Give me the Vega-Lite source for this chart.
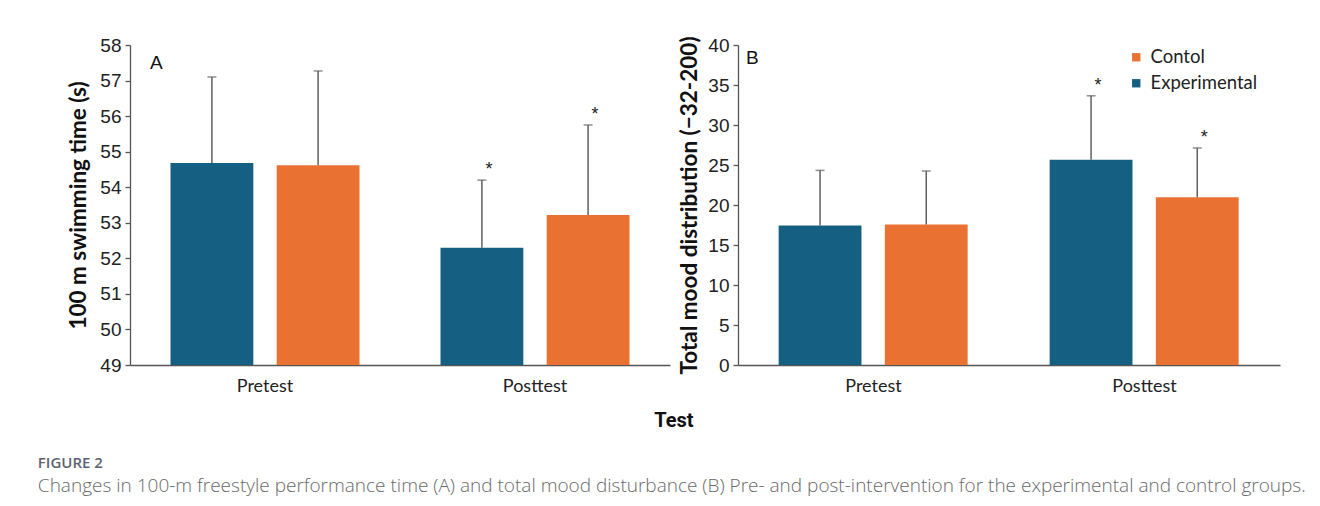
{
  "$schema": "https://vega.github.io/schema/vega-lite/v6.json",
  "background": "white",
  "autosize": {"type": "pad"},
  "padding": {"left": 37, "top": 35, "right": 5, "bottom": 5},
  "datasets": {
    "swim": [
      {"test": "Pretest", "group": "Experimental", "mean": 54.68, "upper": 57.1, "sig": ""},
      {"test": "Pretest", "group": "Contol", "mean": 54.62, "upper": 57.27, "sig": ""},
      {"test": "Posttest", "group": "Experimental", "mean": 52.3, "upper": 54.2, "sig": "*"},
      {"test": "Posttest", "group": "Contol", "mean": 53.22, "upper": 55.75, "sig": "*"}
    ],
    "mood": [
      {"test": "Pretest", "group": "Experimental", "mean": 17.43, "upper": 24.33, "sig": ""},
      {"test": "Pretest", "group": "Contol", "mean": 17.55, "upper": 24.25, "sig": ""},
      {"test": "Posttest", "group": "Experimental", "mean": 25.65, "upper": 33.65, "sig": "*"},
      {"test": "Posttest", "group": "Contol", "mean": 20.98, "upper": 27.13, "sig": "*"}
    ]
  },
  "title": {
    "text": "FIGURE 2",
    "subtitle": "Changes in 100-m freestyle performance time (A) and total mood disturbance (B) Pre- and post-intervention for the experimental and control groups.",
    "orient": "bottom",
    "anchor": "start",
    "frame": "bounds",
    "offset": 25,
    "dx": -30,
    "font": "Open Sans",
    "fontSize": 15,
    "fontWeight": 600,
    "color": "#5c6370",
    "subtitleFont": "Open Sans",
    "subtitleFontSize": 19,
    "subtitleFontWeight": 300,
    "subtitleColor": "#6a6a6a",
    "subtitlePadding": 6
  },
  "config": {
    "view": {"stroke": null},
    "axis": {
      "domainColor": "#555555",
      "domainWidth": 1.3,
      "tickColor": "#555555",
      "tickWidth": 1.3,
      "grid": false,
      "labelOverlap": false,
      "labelColor": "#222222",
      "titleColor": "#111111"
    }
  },
  "vconcat": [
    {
      "title": {"text": "Test", "orient": "bottom", "anchor": "middle", "font": "Roboto", "fontSize": 20, "fontWeight": "bold", "color": "#111111", "offset": 16},
      "spacing": 8,
      "resolve": {"scale": {"color": "independent", "y": "independent"}, "legend": {"color": "independent"}},
      "hconcat": [
        {
          "width": 540,
          "height": 320,
          "title": {"text": "A", "anchor": "start", "frame": "group", "dx": 20, "dy": 41, "font": "Liberation Sans", "fontSize": 19, "fontWeight": "normal", "color": "#111111"},
          "data": {"name": "swim"},
          "encoding": {
            "x": {"field": "test", "type": "nominal", "sort": ["Pretest", "Posttest"], "scale": {"paddingInner": 0.3, "paddingOuter": 0.15},
              "axis": {"title": null, "labelAngle": 0, "ticks": false, "labelFont": "Lato", "labelFontSize": 18, "labelPadding": 12}},
            "xOffset": {"field": "group", "type": "nominal", "sort": ["Experimental", "Contol"], "scale": {"paddingInner": 0.22}}
          },
          "layer": [
            {
              "mark": {"type": "bar"},
              "encoding": {
                "y": {"field": "mean", "type": "quantitative", "scale": {"domain": [49, 58], "nice": false, "zero": false},
                  "axis": {"title": "100 m swimming time (s)", "values": [49, 50, 51, 52, 53, 54, 55, 56, 57, 58], "format": "d", "tickCount": 20, "labelOverlap": false, "labelBound": false, "tickSize": 5, "labelPadding": 4,
                    "labelFont": "Liberation Sans", "labelFontSize": 19, "titleFont": "Lato", "titleFontSize": 22.5, "titleFontWeight": "bold", "titlePadding": 9}},
                "y2": {"datum": 49},
                "color": {"field": "group", "type": "nominal", "scale": {"domain": ["Experimental", "Contol"], "range": ["#156082", "#E97132"]}, "legend": null}
              }
            },
            {
              "mark": {"type": "rule", "color": "#606060", "strokeWidth": 1.5},
              "encoding": {"y": {"field": "mean", "type": "quantitative"}, "y2": {"field": "upper"}}
            },
            {
              "mark": {"type": "tick", "color": "#606060", "thickness": 1.5, "size": 9},
              "encoding": {"y": {"field": "upper", "type": "quantitative"}}
            },
            {
              "mark": {"type": "text", "font": "Liberation Sans", "fontSize": 18, "color": "#222222", "dx": 7, "dy": -10, "baseline": "middle"},
              "encoding": {"y": {"field": "upper", "type": "quantitative"}, "text": {"field": "sig"}}
            }
          ]
        },
        {
          "width": 542,
          "height": 320,
          "title": {"text": "B", "anchor": "start", "frame": "group", "dx": 8, "dy": 36, "font": "Liberation Sans", "fontSize": 19, "fontWeight": "normal", "color": "#111111"},
          "data": {"name": "mood"},
          "encoding": {
            "x": {"field": "test", "type": "nominal", "sort": ["Pretest", "Posttest"], "scale": {"paddingInner": 0.3, "paddingOuter": 0.15},
              "axis": {"title": null, "labelAngle": 0, "ticks": false, "labelFont": "Lato", "labelFontSize": 18, "labelPadding": 12}},
            "xOffset": {"field": "group", "type": "nominal", "sort": ["Experimental", "Contol"], "scale": {"paddingInner": 0.22}}
          },
          "layer": [
            {
              "mark": {"type": "bar"},
              "encoding": {
                "y": {"field": "mean", "type": "quantitative", "scale": {"domain": [0, 40], "nice": false},
                  "axis": {"title": "Total mood distribution (\u221232-200)", "values": [0, 5, 10, 15, 20, 25, 30, 35, 40], "format": "d", "tickCount": 20, "labelOverlap": false, "labelBound": false, "tickSize": 5, "labelPadding": 4,
                    "labelFont": "Liberation Sans", "labelFontSize": 19, "titleFont": "Lato", "titleFontSize": 22.5, "titleFontWeight": "bold", "titlePadding": 6}},
                "y2": {"datum": 0},
                "color": {"field": "group", "type": "nominal", "scale": {"domain": ["Experimental", "Contol"], "range": ["#156082", "#E97132"]},
                  "legend": {"title": null, "orient": "none", "legendX": 389, "legendY": 3, "values": ["Contol", "Experimental"], "symbolType": "square", "symbolSize": 70,
                    "symbolStrokeWidth": 0, "labelFont": "Lato", "labelFontSize": 18.5, "labelColor": "#222222", "rowPadding": 7, "labelOffset": 5}}
              }
            },
            {
              "mark": {"type": "rule", "color": "#606060", "strokeWidth": 1.5},
              "encoding": {"y": {"field": "mean", "type": "quantitative"}, "y2": {"field": "upper"}}
            },
            {
              "mark": {"type": "tick", "color": "#606060", "thickness": 1.5, "size": 9},
              "encoding": {"y": {"field": "upper", "type": "quantitative"}}
            },
            {
              "mark": {"type": "text", "font": "Liberation Sans", "fontSize": 18, "color": "#222222", "dx": 7, "dy": -10, "baseline": "middle"},
              "encoding": {"y": {"field": "upper", "type": "quantitative"}, "text": {"field": "sig"}}
            }
          ]
        }
      ]
    }
  ]
}
